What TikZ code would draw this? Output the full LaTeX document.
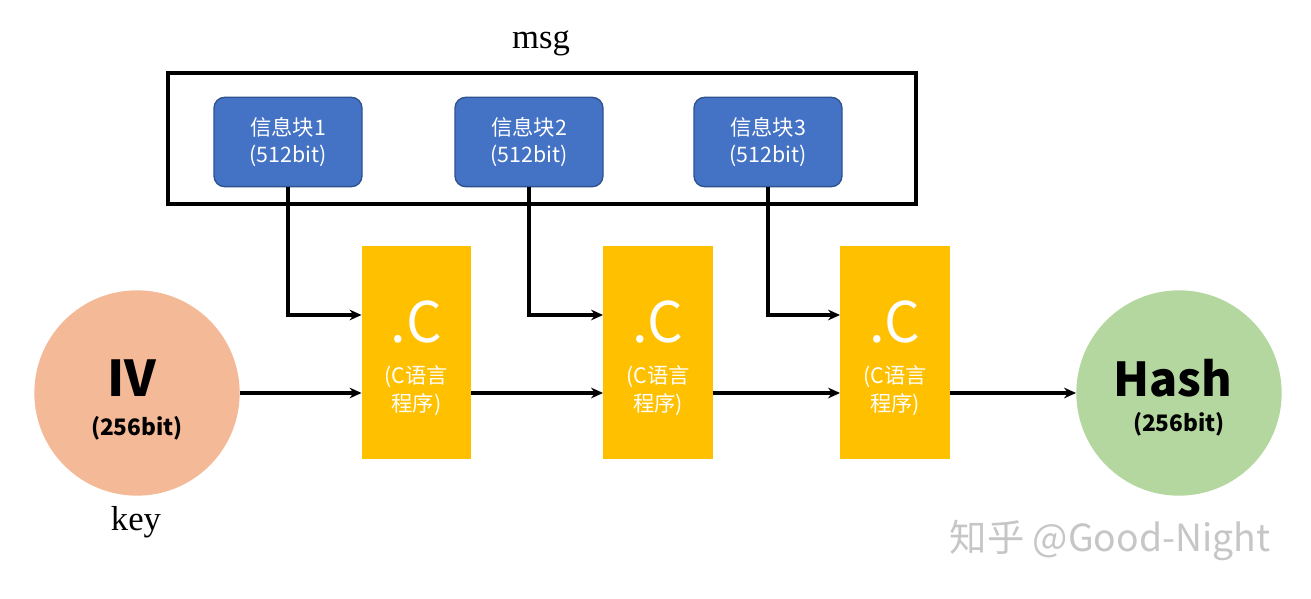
\documentclass[tikz,border=0pt]{standalone}
\usepackage{fontspec}
\setmainfont{Liberation Serif}
\newfontfamily\cjk{Noto Sans CJK SC}
\usetikzlibrary{arrows.meta}
\definecolor{blk}{HTML}{4472C4}
\definecolor{blkb}{HTML}{2F528F}
\definecolor{yel}{HTML}{FFC000}
\definecolor{ivc}{HTML}{F4B996}
\definecolor{hc}{HTML}{B4D7A0}
\tikzset{
 msgblk/.style={draw=blkb,line width=1pt,fill=blk,rounded corners=8pt,minimum width=111pt,minimum height=67pt,text=white,font=\cjk\fontsize{16}{20}\selectfont,align=center},
 cbox/.style={fill=yel,minimum width=82pt,minimum height=160pt,inner sep=0pt},
 arr/.style={line width=3pt,-{Stealth[length=9pt,width=8pt]}},
}
\begin{document}
\begin{tikzpicture}[x=0.75pt,y=-0.75pt]
\useasboundingbox (0,0) rectangle (1311,599);
\node[font=\fontsize{26}{28}\selectfont] (msg) at (541,43) {msg};
\draw[line width=2.6pt] (168,73) rectangle (916,204);
\node[msgblk] (b1) at (288,142) {信息块1\\(512bit)};
\node[msgblk] (b2) at (529,142) {信息块2\\(512bit)};
\node[msgblk] (b3) at (768,142) {信息块3\\(512bit)};
\foreach \i/\x in {1/416.5,2/658,3/895}{
 \node[cbox] (c\i) at (\x,352.5) {};
 \node[text=white,font=\cjk\fontsize{42}{42}\selectfont] at (\x,322) {.C};
 \node[text=white,font=\cjk\fontsize{16}{21}\selectfont,align=center] at (\x,391) {(C语言\\程序)};
}
\node[circle,fill=ivc,minimum size=154pt,inner sep=0pt] (iv) at (137,393) {};
\node[font=\cjk\bfseries\fontsize{37}{37}\selectfont] at (132,378) {IV};
\node[font=\cjk\bfseries\fontsize{17}{20}\selectfont] at (137,428) {(256bit)};
\node[circle,fill=hc,minimum size=154pt,inner sep=0pt] (h) at (1179,393) {};
\node[font=\cjk\bfseries\fontsize{35}{35}\selectfont] at (1173,378) {Hash};
\node[font=\cjk\bfseries\fontsize{17}{20}\selectfont] at (1179,424) {(256bit)};
\node[font=\fontsize{26}{28}\selectfont] (key) at (136,522) {key};
\node[text=gray!45,font=\cjk\fontsize{28}{30}\selectfont] (wm) at (1110,540) {知乎 @Good-Night};
\draw[arr] (b1.south) |- (c1.west |- 0,315);
\draw[arr] (b2.south) |- (c2.west |- 0,315);
\draw[arr] (b3.south) |- (c3.west |- 0,315);
\draw[arr] (iv.east) -- (iv.east -| c1.west);
\draw[arr] (c1.east |- iv.east) -- (c2.west |- iv.east);
\draw[arr] (c2.east |- iv.east) -- (c3.west |- iv.east);
\draw[arr] (c3.east |- iv.east) -- (h.west);
\end{tikzpicture}
\end{document}
